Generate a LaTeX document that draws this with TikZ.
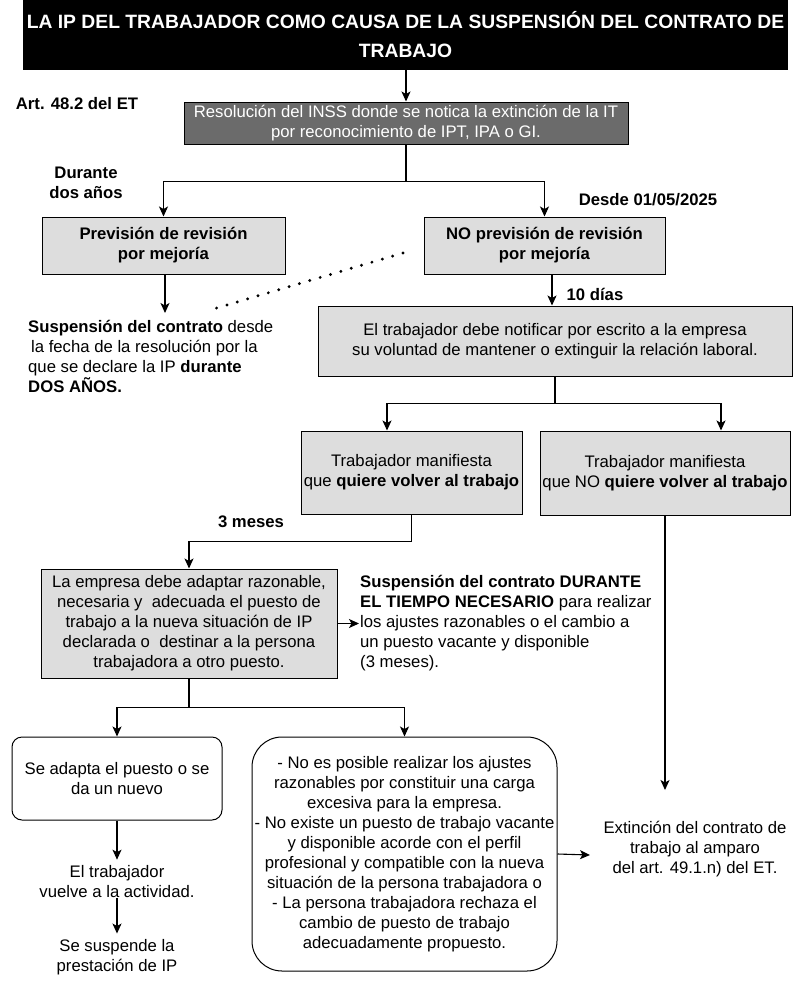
\documentclass[tikz,border=0pt]{standalone}
\usepackage{fontspec}
\setmainfont{Liberation Sans}
\usetikzlibrary{arrows.meta,calc}
\definecolor{boxgray}{HTML}{DDDDDD}
\definecolor{resgray}{HTML}{6B6B6B}
\begin{document}
\begin{tikzpicture}[x=1pt,y=-1pt,
  font=\fontsize{16.7}{20}\selectfont,
  titlebox/.style={fill=black,text=white,inner sep=0pt,align=center,
     font=\bfseries\fontsize{19.3}{29}\selectfont},
  dbox/.style={draw=black,line width=1pt,fill=resgray,text=white,inner sep=0pt,align=center},
  gbox/.style={draw=black,line width=1pt,fill=boxgray,inner sep=0pt,align=center},
  rbox/.style={draw=black,line width=1pt,fill=white,inner sep=0pt,align=center},
  lbl/.style={inner sep=0pt,align=center},
  lbll/.style={inner sep=0pt,align=left},
  conn/.style={line width=1.1pt},
  arr/.style={line width=1.1pt,-{Stealth[length=10pt,width=9pt,inset=2.5pt]}},
  dotline/.style={line width=3.2pt,line cap=round,dash pattern=on 0pt off 10.8pt}]
\useasboundingbox (0,0) rectangle (800,986);

% nodes
\node[titlebox,minimum width=765pt,minimum height=70pt] (title) at (405.5,35)
  {LA IP DEL TRABAJADOR COMO CAUSA DE LA SUSPENSIÓN DEL CONTRATO DE\\TRABAJO};
\node[lbl] (art) at (77,104) {\textbf{Art. 48.2 del ET}};
\node[dbox,minimum width=444pt,minimum height=42pt] (res) at (406,123)
  {Resolución del INSS donde se notica la extinción de la IT\\por reconocimiento de IPT, IPA o GI.};
\node[lbl] (durante) at (86,183) {\textbf{Durante}\\\textbf{dos años}};
\node[lbl] (desde) at (648,200) {\textbf{Desde 01/05/2025}};
\node[gbox,minimum width=243pt,minimum height=57pt] (prev) at (163.5,245.5)
  {\textbf{Previsión de revisión}\\\textbf{por mejoría}};
\node[gbox,minimum width=241pt,minimum height=57pt] (noprev) at (544.5,245.5)
  {\textbf{NO previsión de revisión}\\\textbf{por mejoría}};
\node[lbll,anchor=west] (susp) at (28,356)
  {\textbf{Suspensión del contrato} desde\\\hspace{3pt}la fecha de la resolución por la\\que se declare la IP \textbf{durante}\\\textbf{DOS AÑOS.}};
\node[lbl] (dias) at (595,294) {\textbf{10 días}};
\node[gbox,minimum width=474pt,minimum height=70pt] (notif) at (555,341)
  {El trabajador debe notificar por escrito a la empresa\\su voluntad de mantener o extinguir la relación laboral.};
\node[gbox,minimum width=221pt,minimum height=83pt] (quiere) at (411.5,472.5)
  {Trabajador manifiesta\\que \textbf{quiere volver al trabajo}};
\node[gbox,minimum width=250pt,minimum height=84pt] (noquiere) at (665,473)
  {Trabajador manifiesta\\que NO \textbf{quiere volver al trabajo}};
\node[lbl] (meses) at (251,522) {\textbf{3 meses}};
\node[gbox,minimum width=296pt,minimum height=109pt] (empresa) at (189,623.5)
  {La empresa debe adaptar razonable,\\necesaria y\ \ adecuada el puesto de\\trabajo a la nueva situación de IP\\declarada o\ \ destinar a la persona\\trabajadora a otro puesto.};
\node[lbll,anchor=west] (suspdur) at (360,623)
  {\textbf{Suspensión del contrato DURANTE}\\\textbf{EL TIEMPO NECESARIO} para realizar\\los ajustes razonables o el cambio a\\un puesto vacante y disponible\\(3 meses).};
\node[rbox,rounded corners=10pt,minimum width=210pt,minimum height=83pt] (adapta) at (117,778.5)
  {Se adapta el puesto o se\\da un nuevo};
\node[rbox,rounded corners=30pt,minimum width=305pt,minimum height=234pt] (big) at (404.5,854)
  {- No es posible realizar los ajustes\\razonables por constituir una carga\\excesiva para la empresa.\\- No existe un puesto de trabajo vacante\\y disponible acorde con el perfil\\profesional y compatible con la nueva\\situación de la persona trabajadora o\\- La persona trabajadora rechaza el\\cambio de puesto de trabajo\\adecuadamente propuesto.};
\node[lbl] (vuelve) at (117,882) {El trabajador\\vuelve a la actividad.};
\node[lbl] (suspende) at (117,957.5) {Se suspende la\\prestación de IP};
\node[lbl] (extincion) at (695,849) {Extinción del contrato de\\trabajo al amparo\\del art. 49.1.n) del ET.};

% coordinates
\coordinate (j1) at ($(res.south)+(0,37)$);
\coordinate (c1) at (165,313);
\coordinate (d1) at (403,253);
\coordinate (d2) at (210,310);
\coordinate (j2) at ($(notif.south)+(0,27)$);
\coordinate (j4) at ($(empresa.north)+(0,-27)$);
\coordinate (j3) at ($(empresa.south)+(0,29)$);
\coordinate (c2) at (665,790);
\coordinate (c3) at (590,855);

% connectors
\draw[arr] (res.north |- title.south) -- (res.north);
\draw[conn] (res.south) -- (j1);
\draw[arr] (j1) -| (prev.north);
\draw[arr] (j1) -| (noprev.north);
\draw[arr] ([xshift=1.5pt]prev.south) -- (c1);
\draw[dotline] (d1) -- (d2);
\draw[arr] ([xshift=7.5pt]noprev.south) -- ([xshift=7.5pt]noprev.south |- notif.north);
\draw[conn] (notif.south) -- (j2);
\draw[arr] (j2) -| ([xshift=-24.5pt]quiere.north);
\draw[arr] (j2) -| ([xshift=56pt]noquiere.north);
\draw[arr] (quiere.south) |- (j4) -- (empresa.north);
\draw[arr,shorten >=1pt] (empresa.east) -- (empresa.east -| suspdur.west);
\draw[conn] (empresa.south) -- (j3);
\draw[arr] (j3) -| (adapta.north);
\draw[arr] (j3) -| (big.north);
\draw[arr,shorten >=6pt] (adapta.south) -- (vuelve.north);
\draw[arr,shorten >=6pt] (vuelve.south) -- (suspende.north);
\draw[arr] (noquiere.south) -- (c2);
\draw[arr] (big.east) -- (c3);
\end{tikzpicture}
\end{document}
